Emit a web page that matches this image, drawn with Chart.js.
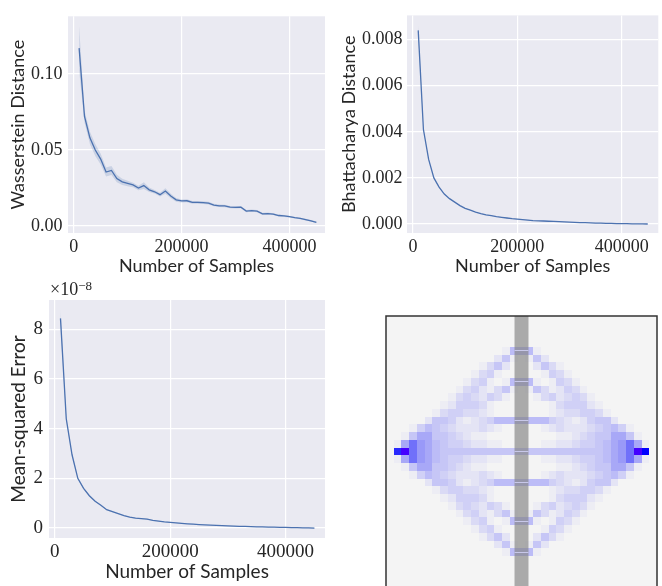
<!DOCTYPE html>
<html>
<head>
<meta charset="utf-8">
<script src="https://cdn.jsdelivr.net/npm/chart.js@4.4.0/dist/chart.umd.min.js"></script>
<style>
  html, body { margin: 0; padding: 0; background: #fff; overflow: hidden; }
  #page { position: relative; width: 662px; height: 586px; overflow: hidden; }
  canvas { position: absolute; }
</style>
</head>
<body>
<div id="page">
  <canvas id="wassChart" width="331" height="283" style="left:0;top:0;width:331px;height:283px"></canvas>
  <canvas id="bhatChart" width="331" height="283" style="left:331px;top:0;width:331px;height:283px"></canvas>
  <canvas id="mseChart" width="331" height="310" style="left:0;top:276px;width:331px;height:310px"></canvas>
  <canvas id="gridChart" width="331" height="311" style="left:331px;top:276px;width:331px;height:311px"></canvas>
</div>
<script>
// sample counts shared by the three error curves
const sampleSizes = [10000, 20000, 30000, 40000, 50000, 60000, 70000, 80000, 90000, 100000,
  110000, 120000, 130000, 140000, 150000, 160000, 170000, 180000, 190000, 200000,
  210000, 220000, 230000, 240000, 250000, 260000, 270000, 280000, 290000, 300000,
  310000, 320000, 330000, 340000, 350000, 360000, 370000, 380000, 390000, 400000,
  410000, 420000, 430000, 440000, 450000];
const xTicks = [0, 200000, 400000];

const wasserstein = [0.117, 0.072, 0.058, 0.050, 0.0440, 0.0355, 0.0365, 0.0312, 0.0290, 0.0280,
  0.0270, 0.0250, 0.0266, 0.0238, 0.0225, 0.0206, 0.0230, 0.0197, 0.0172, 0.0165,
  0.0166, 0.0155, 0.0156, 0.0154, 0.0150, 0.0138, 0.0133, 0.0132, 0.0124, 0.0123,
  0.0124, 0.0098, 0.0101, 0.0098, 0.0080, 0.0082, 0.0078, 0.0069, 0.0066, 0.0062,
  0.0055, 0.0050, 0.0042, 0.0034, 0.0024];
const wassSpread = [0.0145, 0.0040, 0.0040, 0.0040, 0.0035, 0.0030, 0.0030, 0.0025, 0.0020, 0.0018,
  0.0015, 0.0015, 0.0022, 0.0015, 0.0012, 0.0012, 0.0018, 0.0015, 0.0012, 0.0010,
  0.0010, 0.0009, 0.0009, 0.0009, 0.0009, 0.0008, 0.0008, 0.0008, 0.0008, 0.0008,
  0.0008, 0.0007, 0.0007, 0.0007, 0.0007, 0.0006, 0.0006, 0.0006, 0.0006, 0.0006,
  0.0005, 0.0005, 0.0005, 0.0005, 0.0005];
const wassTicks = [0, 0.05, 0.10];

const bhattacharya = [0.0084, 0.0041, 0.0028, 0.0020, 0.0016, 0.0013, 0.0011, 0.00095, 0.0008, 0.00068,
  0.0006, 0.00052, 0.00045, 0.0004, 0.00036, 0.00032, 0.00029, 0.00026, 0.00023, 0.00021,
  0.00019, 0.00017, 0.00015, 0.00014, 0.00013, 0.00012, 0.00011, 0.0001, 0.00009, 0.00008,
  0.00007, 0.00006, 0.00006, 0.00005, 0.00004, 0.00004, 0.00003, 0.00003, 0.00002, 0.00002,
  0.00002, 0.00001, 0.00001, 0.000005, 0.0];
const bhatSpread = [0.00022, 0.00005, 0.00003, 0.00002, 0.00002, 0.00001, 0.00001, 0.00001, 0.00001, 0.00001,
  0.00001, 0.00001, 0.00001, 0.00001, 0.00001, 0.00001, 0.00001, 0.00001, 0.00001, 0.00001,
  0.00001, 0.00001, 0.00001, 0.00001, 0.00001, 0.00001, 0.00001, 0.00001, 0.00001, 0.00001,
  0.00001, 0.00001, 0.00001, 0.00001, 0.00001, 0.00001, 0.00001, 0.00001, 0.00001, 0.00001,
  0.00001, 0.00001, 0.00001, 0.00001, 0.00001];
const bhatTicks = [0, 0.002, 0.004, 0.006, 0.008];

// mean-squared error in units of 1e-8
const mseE8 = [8.44, 4.4, 2.95, 2.0, 1.6, 1.3, 1.08, 0.92, 0.74, 0.66,
  0.58, 0.50, 0.44, 0.40, 0.38, 0.36, 0.31, 0.28, 0.25, 0.23,
  0.21, 0.19, 0.17, 0.155, 0.14, 0.125, 0.115, 0.105, 0.095, 0.085,
  0.08, 0.07, 0.065, 0.055, 0.05, 0.045, 0.04, 0.035, 0.03, 0.025,
  0.02, 0.015, 0.01, 0.005, 0.0];
const mseSpread = [0.35, 0.08, 0.05, 0.04, 0.03, 0.03, 0.025, 0.02, 0.02, 0.02,
  0.015, 0.015, 0.015, 0.015, 0.015, 0.015, 0.01, 0.01, 0.01, 0.01,
  0.01, 0.01, 0.01, 0.01, 0.01, 0.01, 0.01, 0.01, 0.01, 0.01,
  0.01, 0.01, 0.01, 0.01, 0.01, 0.01, 0.01, 0.01, 0.01, 0.01,
  0.01, 0.01, 0.01, 0.01, 0.01];
const mseTicks = [0, 2, 4, 6, 8];

// path density on a 35x35 grid ('.' empty, 1-9 and a increasing, b/c end cells)
const pathRows = [
  "...................................",
  "...................................",
  "...................................",
  "...................................",
  "...............16661...............",
  "..............251.152..............",
  "............1352...2531............",
  "...........1341.....1431...........",
  "..........1341.16661.1431..........",
  ".........13421351.15312431.........",
  "........13432431...13423431........",
  ".......1244431.......1344421.......",
  "......13443321.......12334431......",
  ".....2554212346666666432124552.....",
  "...146543222321.....123222345641...",
  "..15775543211.........11234557751..",
  ".17987654432211.....11223445678971.",
  ".ab98765555555555555555555556789bc.",
  ".17987654432211.....11223445678971.",
  "..15775543211.........11234557751..",
  "...146543222321.....123222345641...",
  ".....2554212346666666432124552.....",
  "......13443321.......12334431......",
  ".......1244431.......1344421.......",
  "........13432431...13423431........",
  ".........13421351.15312431.........",
  "..........1341.16661.1431..........",
  "...........1341.....1431...........",
  "............1352...2531............",
  "..............251.152..............",
  "...............16661...............",
  "...................................",
  "...................................",
  "...................................",
  "..................................."
];
const slitRows = [4, 8, 13, 17, 21, 26, 30];
const barrierSpan = [16.6, 18.4];

const lineColor = "#4c72b0";
const bandColor = "rgba(76,114,176,0.2)";
const textColor = "#262626";

// seaborn-like grey panel behind each curve
const plotBackground = {
  id: "plotBackground",
  beforeDraw(chart, args, opts) {
    if (!opts.color) return;
    const {ctx, chartArea: a} = chart;
    ctx.save();
    ctx.fillStyle = opts.color;
    ctx.fillRect(a.left, a.top, a.right - a.left, a.bottom - a.top);
    ctx.restore();
  }
};
Chart.register(plotBackground);

function curveChart(canvasId, values, spread, cfg) {
  const line = sampleSizes.map((x, i) => ({x: x, y: values[i]}));
  const upper = sampleSizes.map((x, i) => ({x: x, y: values[i] + spread[i]}));
  const lower = sampleSizes.map((x, i) => ({x: x, y: values[i] - spread[i]}));
  return new Chart(document.getElementById(canvasId), {
    type: "line",
    data: {
      datasets: [
        {data: line, borderColor: lineColor, borderWidth: 1.3, pointRadius: 0, fill: false},
        {data: upper, borderColor: "transparent", borderWidth: 0, pointRadius: 0, fill: "+1", backgroundColor: bandColor},
        {data: lower, borderColor: "transparent", borderWidth: 0, pointRadius: 0, fill: false}
      ]
    },
    options: {
      responsive: false,
      animation: false,
      events: [],
      layout: {padding: cfg.padding},
      plugins: {
        legend: {display: false},
        tooltip: {enabled: false},
        plotBackground: {color: "#eaeaf2"}
      },
      scales: {
        x: {
          type: "linear",
          min: cfg.xRange[0],
          max: cfg.xRange[1],
          afterBuildTicks: s => { s.ticks = xTicks.map(v => ({value: v})); },
          afterFit: s => { s.height = cfg.xHeight; },
          grid: {color: "#ffffff", lineWidth: 1.2, drawTicks: false},
          border: {display: false},
          ticks: {
            autoSkip: false, maxRotation: 0, padding: cfg.xTickPad, color: textColor,
            font: {family: "Liberation Serif", size: cfg.tickSize},
            callback: v => String(v)
          },
          title: {
            display: true, text: "Number of Samples", color: textColor,
            font: {family: "Lato", size: cfg.titleSize},
            padding: {top: 0, bottom: cfg.xTitlePad}
          }
        },
        y: {
          type: "linear",
          min: cfg.yRange[0],
          max: cfg.yRange[1],
          afterBuildTicks: s => { s.ticks = cfg.yTicks.map(v => ({value: v})); },
          afterFit: s => { s.width = cfg.yWidth; },
          grid: {color: "#ffffff", lineWidth: 1.2, drawTicks: false},
          border: {display: false},
          ticks: {
            autoSkip: false, padding: cfg.yTickPad, color: textColor,
            font: {family: "Liberation Serif", size: cfg.tickSize},
            callback: v => v.toFixed(cfg.digits)
          },
          title: {
            display: true, text: cfg.yTitle, color: textColor,
            font: {family: "Lato", size: cfg.titleSize},
            padding: {top: cfg.yTitlePad, bottom: 0}
          }
        }
      }
    },
    plugins: cfg.extraPlugins || []
  });
}

curveChart("wassChart", wasserstein, wassSpread, {
  padding: {left: 0, top: 7, right: 6, bottom: 0},
  xRange: [-10600, 466000], yRange: [-0.0046, 0.1379], yTicks: wassTicks, digits: 2,
  xHeight: 50, yWidth: 68, xTickPad: 3, xTitlePad: 6, yTickPad: 5.5, yTitlePad: 7.7,
  tickSize: 18, titleSize: 18, yTitle: "Wasserstein Distance"
});

curveChart("bhatChart", bhattacharya, bhatSpread, {
  padding: {left: 0, top: 15, right: 3.7, bottom: 0},
  xRange: [-11500, 470250], yRange: [-0.00039, 0.00905], yTicks: bhatTicks, digits: 3,
  xHeight: 50, yWidth: 76, xTickPad: 3, xTitlePad: 6, yTickPad: 4.6, yTitlePad: 7.7,
  tickSize: 18, titleSize: 18, yTitle: "Bhattacharya Distance"
});

// scale factor written above the MSE axis
const offsetLabel = {
  id: "offsetLabel",
  afterDraw(chart) {
    const {ctx, chartArea: a} = chart;
    ctx.save();
    ctx.fillStyle = textColor;
    ctx.textBaseline = "alphabetic";
    ctx.font = "18px 'Liberation Serif'";
    ctx.fillText("\u00d710", a.left + 1, a.top - 5);
    const w = ctx.measureText("\u00d710").width;
    ctx.font = "13px 'Liberation Serif'";
    ctx.fillText("\u22128", a.left + 1 + w, a.top - 10.5);
    ctx.restore();
  }
};

curveChart("mseChart", mseE8, mseSpread, {
  padding: {left: 0, top: 24, right: 6, bottom: 0},
  xRange: [-9900, 468300], yRange: [-0.40, 9.18], yTicks: mseTicks, digits: 0,
  xHeight: 48, yWidth: 49, xTickPad: 2.6, xTitlePad: 3.1, yTickPad: 6, yTitlePad: 7.6,
  tickSize: 19, titleSize: 19, yTitle: "Mean-squared Error",
  extraPlugins: [offsetLabel]
});

// density grid with the central barrier and its slits
const levelTint = {".": 0, "1": 0.03, "2": 0.066, "3": 0.107, "4": 0.148, "5": 0.19,
  "6": 0.23, "7": 0.31, "8": 0.375, "9": 0.54, "a": 0.83};
function cellColor(ch) {
  if (ch === "b") return "#4400ff";
  if (ch === "c") return "#0000ff";
  const t = levelTint[ch] || 0;
  const g = Math.round(244 * (1 - t));
  return "rgb(" + g + "," + g + "," + Math.round(244 + 11 * t) + ")";
}

const densityCells = {
  id: "densityCells",
  afterDraw(chart) {
    const {ctx, chartArea: a, scales: {x, y}} = chart;
    ctx.save();
    pathRows.forEach((row, r) => {
      const y0 = Math.round(y.getPixelForValue(r));
      const y1 = Math.round(y.getPixelForValue(r + 1));
      [...row].forEach((ch, c) => {
        const x0 = Math.round(x.getPixelForValue(c));
        const x1 = Math.round(x.getPixelForValue(c + 1));
        ctx.fillStyle = cellColor(ch);
        ctx.fillRect(x0, y0, x1 - x0, y1 - y0);
      });
    });
    const bx0 = x.getPixelForValue(barrierSpan[0]);
    const bx1 = x.getPixelForValue(barrierSpan[1]);
    ctx.fillStyle = "rgba(128,128,128,0.64)";
    ctx.fillRect(bx0, a.top, bx1 - bx0, a.bottom - a.top);
    ctx.fillStyle = "rgba(205,205,240,0.9)";
    slitRows.forEach(r => {
      ctx.fillRect(bx0, Math.round(y.getPixelForValue(r + 0.45)), bx1 - bx0, 1);
    });
    ctx.strokeStyle = "#333333";
    ctx.lineWidth = 1.5;
    ctx.strokeRect(a.left, a.top, a.right - a.left, a.bottom - a.top);
    ctx.restore();
  }
};

new Chart(document.getElementById("gridChart"), {
  type: "scatter",
  data: {datasets: []},
  options: {
    responsive: false,
    animation: false,
    events: [],
    layout: {padding: {left: 55, right: 5, top: 40, bottom: 0}},
    plugins: {legend: {display: false}, tooltip: {enabled: false}},
    scales: {
      x: {type: "linear", min: 0, max: 35, display: false},
      y: {type: "linear", min: 0, max: 35, reverse: true, display: false}
    }
  },
  plugins: [densityCells]
});
</script>
</body>
</html>
